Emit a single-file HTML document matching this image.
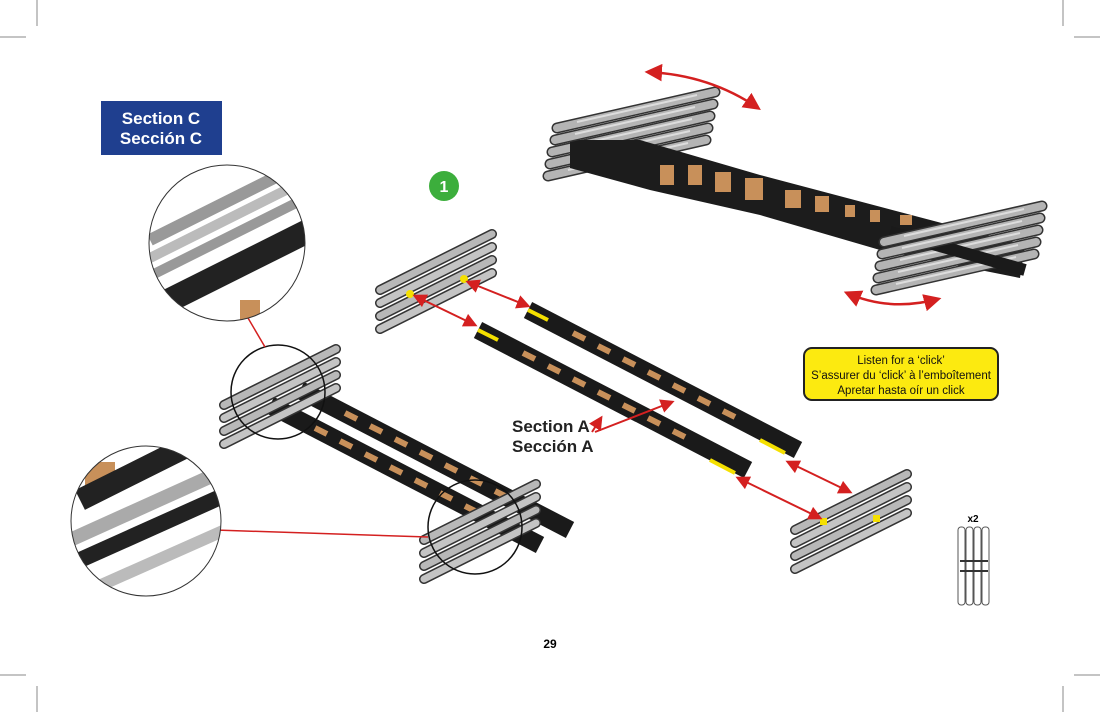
<!DOCTYPE html>
<html><head><meta charset="utf-8"><style>
html,body{margin:0;padding:0;background:#fff;}
svg{display:block;}
text{font-family:"Liberation Sans","DejaVu Sans",sans-serif;}
</style></head><body>
<svg width="1100" height="712" viewBox="0 0 1100 712" xmlns="http://www.w3.org/2000/svg">
<defs>
<marker id="ah" viewBox="0 0 10 10" refX="8" refY="5" markerWidth="7" markerHeight="7" orient="auto-start-reverse">
  <path d="M0 0 L10 5 L0 10 z" fill="#d42020"/>
</marker>
<g id="panel">
  <line x1="0" y1="0" x2="112" y2="-56" stroke="#333" stroke-width="10" stroke-linecap="round"/>
  <line x1="0" y1="0" x2="112" y2="-56" stroke="#b8b8b8" stroke-width="7" stroke-linecap="round"/>
  <line x1="0" y1="13" x2="112" y2="-43" stroke="#333" stroke-width="10" stroke-linecap="round"/>
  <line x1="0" y1="13" x2="112" y2="-43" stroke="#c4c4c4" stroke-width="7" stroke-linecap="round"/>
  <line x1="0" y1="26" x2="112" y2="-30" stroke="#333" stroke-width="10" stroke-linecap="round"/>
  <line x1="0" y1="26" x2="112" y2="-30" stroke="#b8b8b8" stroke-width="7" stroke-linecap="round"/>
  <line x1="0" y1="39" x2="112" y2="-17" stroke="#333" stroke-width="10" stroke-linecap="round"/>
  <line x1="0" y1="39" x2="112" y2="-17" stroke="#c4c4c4" stroke-width="7" stroke-linecap="round"/>
</g>
<g id="plate">
  <line x1="0" y1="0" x2="158" y2="-36" stroke="#333" stroke-width="11" stroke-linecap="round"/>
  <line x1="0" y1="0" x2="158" y2="-36" stroke="#b4b4b4" stroke-width="8" stroke-linecap="round"/>
  <line x1="20" y1="-6" x2="140" y2="-33" stroke="#ddd" stroke-width="2"/>
</g>
<g id="beam">
  <line x1="0" y1="0" x2="270" y2="140" stroke="#1a1a1a" stroke-width="18"/>
  <g stroke="#c8905a" stroke-width="6">
    <line x1="45" y1="23" x2="57" y2="29"/><line x1="70" y1="36" x2="82" y2="42"/>
    <line x1="95" y1="49" x2="107" y2="55"/><line x1="120" y1="62" x2="132" y2="68"/>
    <line x1="145" y1="75" x2="157" y2="81"/><line x1="170" y1="88" x2="182" y2="94"/>
    <line x1="195" y1="101" x2="207" y2="107"/>
  </g>
</g>
<clipPath id="c1"><circle cx="227" cy="243" r="78"/></clipPath>
<clipPath id="c2"><circle cx="146" cy="521" r="75"/></clipPath>
</defs>
<g stroke="#888" stroke-width="1">
<line x1="0" y1="37" x2="26" y2="37"/><line x1="37" y1="0" x2="37" y2="26"/>
<line x1="1074" y1="37" x2="1100" y2="37"/><line x1="1063" y1="0" x2="1063" y2="26"/>
<line x1="0" y1="675" x2="26" y2="675"/><line x1="37" y1="686" x2="37" y2="712"/>
<line x1="1074" y1="675" x2="1100" y2="675"/><line x1="1063" y1="686" x2="1063" y2="712"/>
</g>
<rect x="101" y="101" width="121" height="54" fill="#1f3f8f"/>
<text x="161" y="124" fill="#fff" font-size="17" text-anchor="middle" font-weight="bold">Section C</text>
<text x="161" y="144" fill="#fff" font-size="17" text-anchor="middle" font-weight="bold">Sección C</text>
<circle cx="444" cy="186" r="15" fill="#3cae3c"/>
<text x="444" y="192" fill="#fff" font-size="16" text-anchor="middle" font-weight="bold">1</text>
<!-- top assembly -->
<use href="#plate" x="548" y="176"/><use href="#plate" x="550" y="164"/>
<use href="#plate" x="552" y="152"/>
<polygon points="570,140 640,140 760,175 1025,245 1020,278 880,250 760,215 650,190 570,168" fill="#1c1c1c"/>
<g fill="#c8905a">
<rect x="660" y="165" width="14" height="20"/><rect x="688" y="165" width="14" height="20"/>
<rect x="715" y="172" width="16" height="20"/><rect x="745" y="178" width="18" height="22"/>
<rect x="785" y="190" width="16" height="18"/><rect x="815" y="196" width="14" height="16"/>
<rect x="845" y="205" width="10" height="12"/><rect x="870" y="210" width="10" height="12"/>
<rect x="900" y="215" width="12" height="10"/>
</g>
<use href="#plate" x="555" y="140"/><use href="#plate" x="557" y="128"/>
<use href="#plate" x="876" y="290"/><use href="#plate" x="878" y="278"/>
<use href="#plate" x="880" y="266"/>
<line x1="890" y1="232" x2="1025" y2="270" stroke="#1a1a1a" stroke-width="12"/>
<use href="#plate" x="882" y="254"/><use href="#plate" x="884" y="242"/>
<g fill="none" stroke="#d42020" stroke-width="2.5" marker-start="url(#ah)" marker-end="url(#ah)">
<path d="M648 72 Q710 75 758 108"/><path d="M847 293 Q890 312 938 299"/>
</g>
<!-- middle -->
<use href="#panel" x="380" y="290"/>
<use href="#beam" x="478" y="330"/>
<use href="#beam" x="528" y="310"/>
<line x1="478" y1="330" x2="498" y2="340" stroke="#f5e000" stroke-width="4"/>
<line x1="528" y1="310" x2="548" y2="320" stroke="#f5e000" stroke-width="4"/>
<line x1="710" y1="460" x2="735" y2="473" stroke="#f5e000" stroke-width="4"/>
<line x1="760" y1="440" x2="785" y2="453" stroke="#f5e000" stroke-width="4"/>
<use href="#panel" x="795" y="530"/>
<circle cx="410" cy="294" r="4" fill="#f5e000"/><circle cx="464" cy="279" r="4" fill="#f5e000"/>
<rect x="820" y="518" width="7" height="7" fill="#f5e000"/><rect x="873" y="515" width="7" height="7" fill="#f5e000"/>
<g stroke="#d42020" stroke-width="2" marker-start="url(#ah)" marker-end="url(#ah)">
<line x1="415" y1="296" x2="475" y2="325"/><line x1="468" y1="282" x2="528" y2="306"/>
<line x1="738" y1="478" x2="820" y2="518"/><line x1="788" y1="462" x2="850" y2="492"/>
</g>
<g stroke="#d42020" stroke-width="2" marker-end="url(#ah)">
<line x1="595" y1="432" x2="672" y2="402"/><line x1="592" y1="432" x2="601" y2="418"/>
</g>
<text x="512" y="432" font-size="17" font-weight="bold" fill="#222">Section A</text>
<text x="512" y="452" font-size="17" font-weight="bold" fill="#222">Sección A</text>
<rect x="804" y="348" width="194" height="52" rx="8" fill="#fcea10" stroke="#222" stroke-width="2"/>
<text x="901" y="364" font-size="11.5" text-anchor="middle" fill="#111">Listen for a ‘click’</text>
<text x="901" y="379" font-size="11.5" text-anchor="middle" fill="#111">S’assurer du ‘click’ à l’emboîtement</text>
<text x="901" y="394" font-size="11.5" text-anchor="middle" fill="#111">Apretar hasta oír un click</text>
<!-- left assembly -->
<use href="#beam" x="270" y="405"/><use href="#beam" x="300" y="390"/>
<use href="#panel" x="224" y="405"/>
<use href="#panel" x="424" y="540"/>
<circle cx="278" cy="392" r="47" fill="none" stroke="#111" stroke-width="1.5"/>
<circle cx="475" cy="527" r="47" fill="none" stroke="#111" stroke-width="1.5"/>
<g stroke="#d42020" stroke-width="1.5">
<line x1="248" y1="318" x2="265" y2="347"/><line x1="215" y1="530" x2="428" y2="537"/>
</g>
<!-- magnifiers -->
<g clip-path="url(#c1)">
<rect x="140" y="160" width="180" height="170" fill="#fff"/>
<line x1="150" y1="240" x2="310" y2="160" stroke="#999" stroke-width="12"/>
<line x1="150" y1="258" x2="310" y2="178" stroke="#bbb" stroke-width="10"/>
<line x1="150" y1="276" x2="310" y2="196" stroke="#999" stroke-width="10"/>
<line x1="170" y1="300" x2="310" y2="230" stroke="#222" stroke-width="24"/>
<rect x="240" y="300" width="20" height="20" fill="#c8905a"/>
</g>
<circle cx="227" cy="243" r="78" fill="none" stroke="#333" stroke-width="1"/>
<g clip-path="url(#c2)">
<rect x="70" y="445" width="155" height="155" fill="#fff"/>
<rect x="85" y="462" width="30" height="25" fill="#c8905a"/>
<line x1="80" y1="500" x2="200" y2="440" stroke="#222" stroke-width="22"/>
<line x1="70" y1="540" x2="225" y2="470" stroke="#aaa" stroke-width="14"/>
<line x1="80" y1="560" x2="225" y2="495" stroke="#222" stroke-width="16"/>
<line x1="90" y1="590" x2="225" y2="530" stroke="#bbb" stroke-width="12"/>
</g>
<circle cx="146" cy="521" r="75" fill="none" stroke="#333" stroke-width="1"/>
<!-- x2 icon -->
<text x="973" y="522" font-size="10" font-weight="bold" text-anchor="middle">x2</text>
<g stroke="#555" stroke-width="1" fill="none">
<rect x="958" y="527" width="7" height="78" rx="3"/><rect x="966" y="527" width="7" height="78" rx="3"/>
<rect x="974" y="527" width="7" height="78" rx="3"/><rect x="982" y="527" width="7" height="78" rx="3"/>
</g>
<g fill="#333"><rect x="960" y="560" width="28" height="2"/><rect x="960" y="570" width="28" height="2"/></g>
<text x="550" y="648" font-size="12" font-weight="bold" text-anchor="middle">29</text>
</svg>
</body></html>
